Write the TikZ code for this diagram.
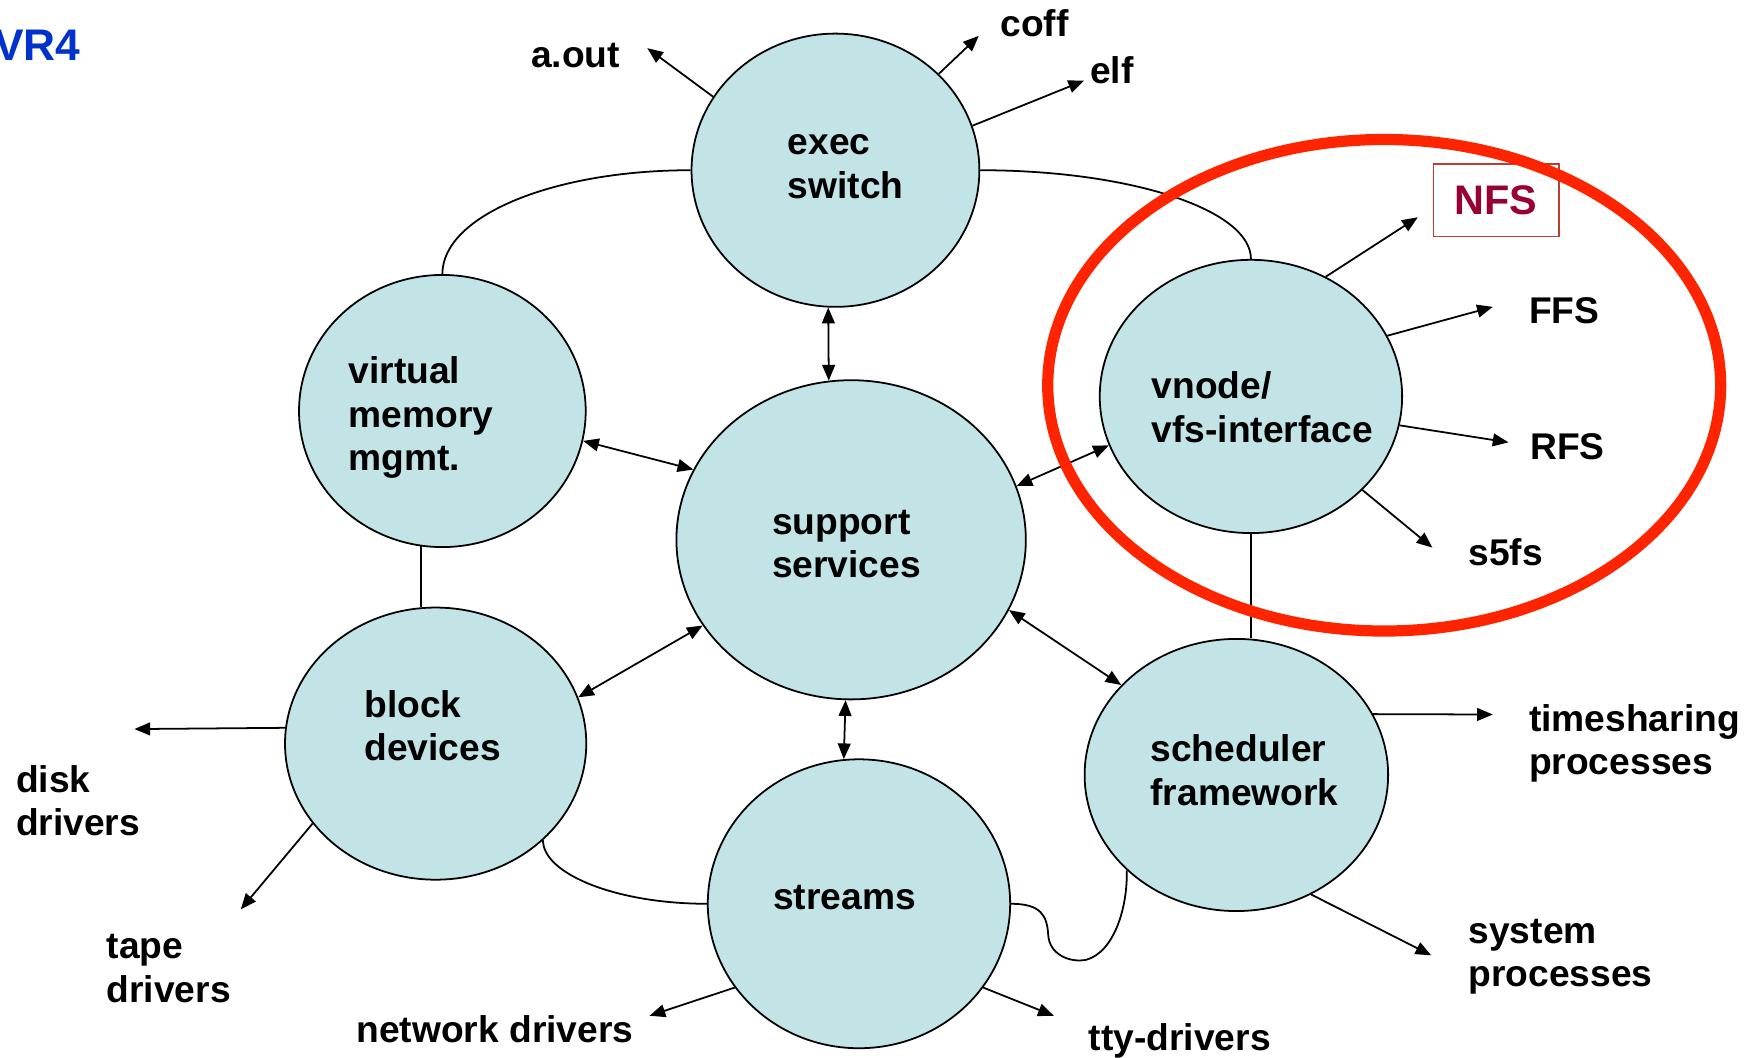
\documentclass[tikz,border=0pt]{standalone}
\usepackage{fontspec}
\setmainfont{Liberation Sans}
\usetikzlibrary{arrows.meta,shapes.geometric}
\definecolor{pale}{RGB}{194,228,231}
\definecolor{ringred}{RGB}{255,36,0}
\definecolor{wine}{RGB}{153,0,51}
\definecolor{boxred}{RGB}{190,60,50}
\definecolor{titleblue}{RGB}{0,51,204}

\begin{document}
\begin{tikzpicture}[x=0.02cm,y=-0.02cm,
    blob/.style={ellipse,draw,fill=pale,line width=0.9pt,inner sep=0pt},
    lbl/.style={font=\bfseries\fontsize{18.9}{22}\selectfont,align=left,inner sep=0pt,anchor=west,yshift=-0.08cm,
      execute at begin node=\vphantom{Ay},execute at end node=\vphantom{Ay}},
    arr/.style={line width=0.9pt,-{Triangle[length=8pt,width=6.5pt]}},
    dbl/.style={line width=0.9pt,{Triangle[length=8pt,width=6.5pt]}-{Triangle[length=8pt,width=6.5pt]}},
    link/.style={line width=0.9pt}]
  \useasboundingbox (0,0) rectangle (1568,944);

  \node[font=\bfseries\fontsize{22.5}{26}\selectfont,text=titleblue,anchor=base east,inner sep=0pt] (title) at (72,54) {VR4};

  % subsystems
  \foreach \n/\x/\y/\w/\h in {exec/746/152/257/244,vm/395/367/256/243,support/760/482/312/285,
      vnode/1117/354/270/244,block/389/664/269/243,streams/767/807/270/258,sched/1104/692/271/243}
    \node[blob,minimum width=\w*0.02cm,minimum height=\h*0.02cm] (\n) at (\x,\y) {};

  \node[lbl] (exec-l) at (703,148) {exec\\switch};
  \node[lbl] (vm-l) at (311,369) {virtual\\memory\\mgmt.};
  \node[lbl] (support-l) at (689,485) {support\\services};
  \node[lbl] (vnode-l) at (1028,363) {vnode/\\vfs-interface};
  \node[lbl] (block-l) at (325,647) {block\\devices};
  \node[lbl] (streams-l) at (690,800) {streams};
  \node[lbl] (sched-l) at (1027,687) {scheduler\\framework};

  % links to the core
  \draw[dbl] (exec.267) -- (support.98);
  \draw[dbl] (vm.348) -- (support.156);
  \draw[dbl] (vnode.199) -- (support.18);
  \draw[dbl] (block.18) -- (support.210);
  \draw[dbl] (support.336) -- (sched.142);
  \draw[dbl] (support.268) -- (streams.96);

  % outer ring of plain links
  \draw[link] (exec.west) .. controls +(-123,0) and +(0,-52) .. (vm.north);
  \draw[link] (exec.east) .. controls +(134,0) and +(0,-44) .. (vnode.north);
  \draw[link] (vm.261) -- (vm.261 |- block.north);
  \draw[link] (vnode.south) -- (vnode.south |- sched.north);
  \draw[link] (block.318) .. controls +(0,30) and +(-81,0) .. (streams.west);
  \draw[link] (streams.east) .. controls (930,807) and (935,818) .. (936,835)
    .. controls (937,852) and (955,860) .. (970,857)
    .. controls (995,850) and (1007,810) .. (sched.221);

  % what each subsystem drives
  \coordinate (aout-tip) at (578,43);
  \coordinate (coff-tip) at (874,32);
  \coordinate (elf-tip) at (968,72);
  \coordinate (nfs-tip) at (1266,194);
  \coordinate (ffs-tip) at (1333,274);
  \coordinate (rfs-tip) at (1347,395);
  \coordinate (s5fs-tip) at (1279,489);
  \coordinate (disk-tip) at (120,651);
  \coordinate (tape-tip) at (215,812);
  \coordinate (net-tip) at (580,907);
  \coordinate (tty-tip) at (941,907);
  \coordinate (ts-tip) at (1333,638);
  \coordinate (sys-tip) at (1278,853);

  \draw[arr] (exec.149) -- (aout-tip);
  \draw[arr] (exec.43) -- (coff-tip);
  \draw[arr] (exec.18) -- (elf-tip);
  \draw[arr] (vnode.58) -- (nfs-tip);
  \draw[arr] (vnode.24) -- (ffs-tip);
  \draw[arr] (vnode.349) -- (rfs-tip);
  \draw[arr] (vnode.320) -- (s5fs-tip);
  \draw[arr] (block.174) -- (disk-tip);
  \draw[arr] (block.213) -- (tape-tip);
  \draw[arr] (streams.214) -- (net-tip);
  \draw[arr] (streams.326) -- (tty-tip);
  \draw[arr] (sched.24) -- (ts-tip);
  \draw[arr] (sched.302) -- (sys-tip);

  \node[lbl] (aout) at (474,48) {a.out};
  \node[lbl] (coff) at (893,20) {coff};
  \node[lbl] (elf) at (973,62) {elf};
  \node[draw=boxred,line width=0.6pt,minimum width=112*0.02cm,minimum height=65*0.02cm,inner sep=0pt,
    text=wine,font=\bfseries\fontsize{21}{24}\selectfont] (nfs) at (1336,179) {NFS};
  \node[lbl] (ffs) at (1365,277) {FFS};
  \node[lbl] (rfs) at (1366,398) {RFS};
  \node[lbl] (s5fs) at (1311,492) {s5fs};
  \node[lbl] (disk) at (14,714) {disk\\drivers};
  \node[lbl] (tape) at (95,864) {tape\\drivers};
  \node[lbl] (net) at (318,918) {network drivers};
  \node[lbl] (tty) at (972,925) {tty-drivers};
  \node[lbl] (ts) at (1365,660) {timesharing\\processes};
  \node[lbl] (sys) at (1311,850) {system\\processes};

  % file system ring
  \draw[ringred,line width=5.7pt] (1236,344) ellipse [x radius=6.01cm,y radius=4.39cm];
\end{tikzpicture}
\end{document}
